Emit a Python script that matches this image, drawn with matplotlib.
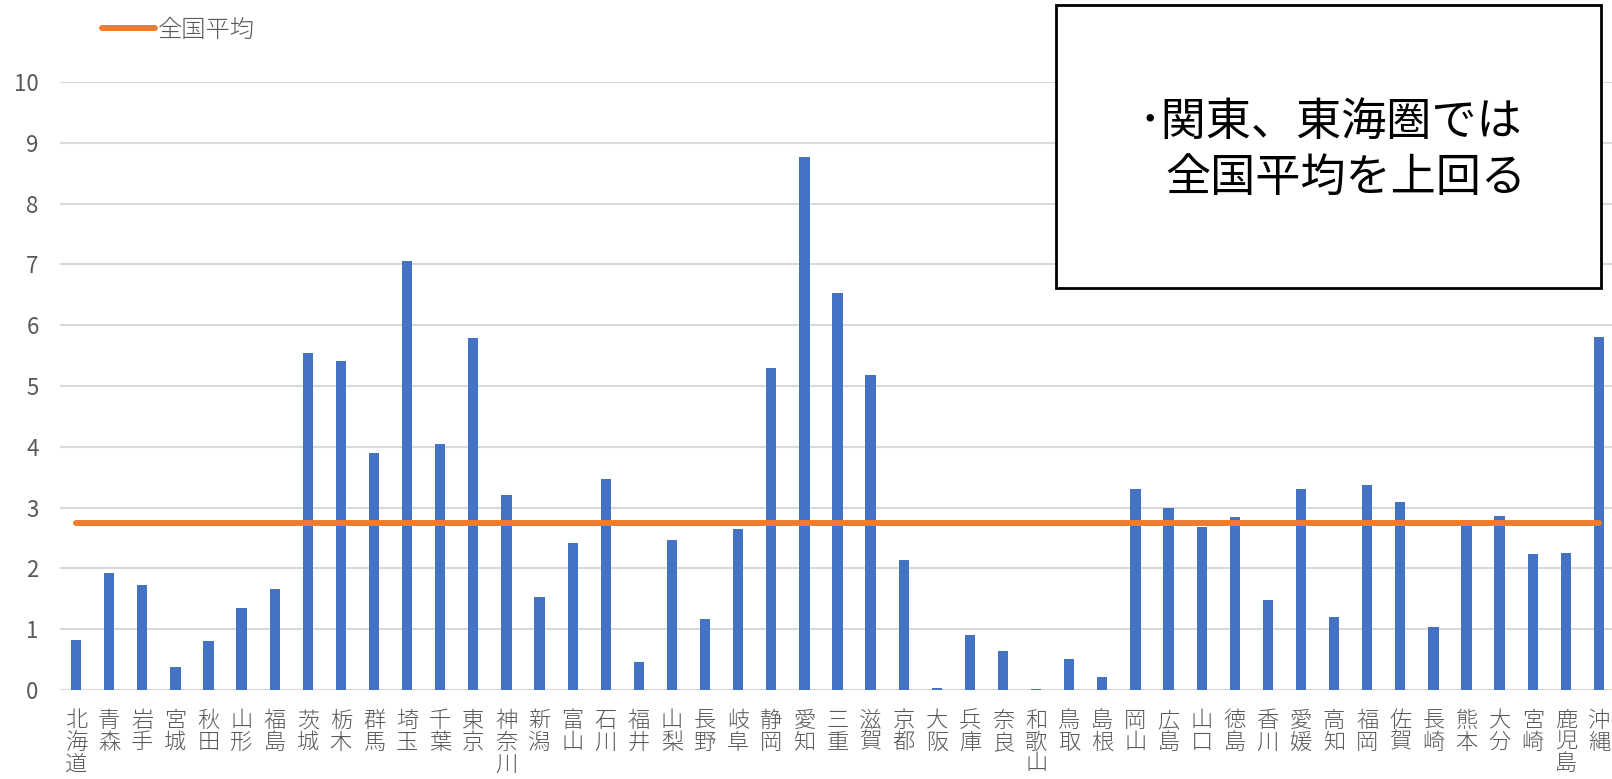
import numpy as np
import matplotlib
matplotlib.use('Agg')
import matplotlib.pyplot as plt
from matplotlib.patches import Rectangle

plt.rcParams['font.family'] = ['Noto Sans CJK JP', 'DejaVu Sans']

prefs = ['北海道', '青森', '岩手', '宮城', '秋田', '山形', '福島', '茨城', '栃木', '群馬',
         '埼玉', '千葉', '東京', '神奈川', '新潟', '富山', '石川', '福井', '山梨', '長野',
         '岐阜', '静岡', '愛知', '三重', '滋賀', '京都', '大阪', '兵庫', '奈良', '和歌山',
         '鳥取', '島根', '岡山', '広島', '山口', '徳島', '香川', '愛媛', '高知', '福岡',
         '佐賀', '長崎', '熊本', '大分', '宮崎', '鹿児島', '沖縄']
values = [0.82, 1.93, 1.73, 0.38, 0.80, 1.35, 1.66, 5.54, 5.41, 3.90,
          7.05, 4.04, 5.79, 3.20, 1.53, 2.42, 3.47, 0.46, 2.47, 1.16,
          2.64, 5.30, 8.76, 6.53, 5.18, 2.14, 0.04, 0.91, 0.64, 0.01,
          0.51, 0.21, 3.30, 2.99, 2.68, 2.84, 1.48, 3.31, 1.20, 3.37,
          3.09, 1.04, 2.80, 2.86, 2.24, 2.26, 5.80]
national_avg = 2.75
yticks = list(range(0, 11))

W, H = 1612, 779
fig = plt.figure(figsize=(W / 100, H / 100), dpi=100)
ax = fig.add_axes([59.5 / W, (H - 690) / H, 1556 / W, 608 / H])

x = np.arange(len(prefs))
ax.bar(x, values, width=0.31, color='#4472C4', zorder=2)
ax.plot(x, [national_avg] * len(prefs), color='#ED7D31', lw=4.3,
        solid_capstyle='round', zorder=3, label='全国平均')

ax.set_xlim(-0.5, len(prefs) - 0.5)
ax.set_ylim(0, 10)
ax.set_yticks(yticks)
ax.yaxis.grid(True, color='#D9D9D9', lw=1.5, zorder=0)
for s in ax.spines.values():
    s.set_visible(False)
ax.set_xticks(x)
ax.set_xticklabels(['\n'.join(p) for p in prefs], linespacing=0.98, fontweight='light')
ax.tick_params(axis='x', length=0, pad=14.5, labelsize=16, labelcolor='#595959')
ax.tick_params(axis='y', length=0, pad=15, labelsize=16, labelcolor='#595959')

fig.legend(loc='center left', bbox_to_anchor=(102 / W, 1 - 30 / H), frameon=False,
           borderpad=0, borderaxespad=0, handlelength=2.2, handletextpad=0.1,
           prop={'size': 17.5, 'weight': 'light'}, labelcolor='#595959')

# comment box
fig.patches.append(Rectangle((1056 / W, 1 - 288 / H), (1601 - 1056) / W, (288 - 5) / H,
                             transform=fig.transFigure, fill=True, facecolor='white',
                             edgecolor='black', lw=2, zorder=5))
fig.text(1138 / W, 1 - 122 / H, '･関東、東海圏では', fontsize=32.5, color='black',
         ha='left', va='center', zorder=6)
fig.text(1165 / W, 1 - 178 / H, '全国平均を上回る', fontsize=32.5, color='black',
         ha='left', va='center', zorder=6)

fig.savefig('out.png', dpi=100)
